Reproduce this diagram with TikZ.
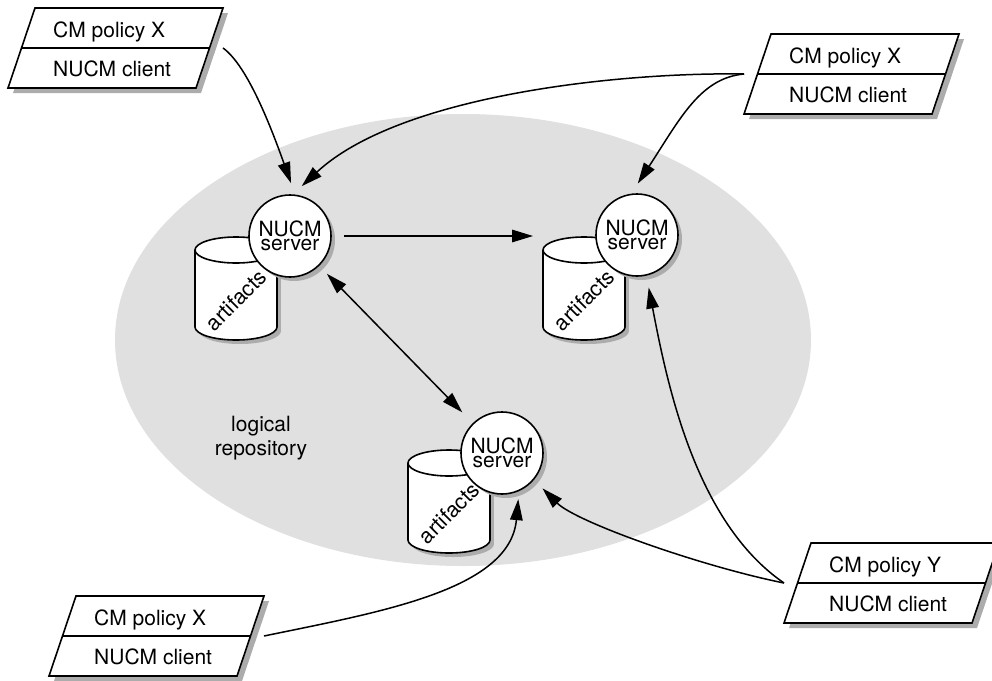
\documentclass[tikz,border=0pt]{standalone}
\usepackage{fontspec}
\setmainfont{TeX Gyre Heros}
\usetikzlibrary{arrows.meta,shadows}
\definecolor{bgc}{RGB}{224,224,224}
\definecolor{shadowc}{RGB}{172,172,172}
\tikzset{
  shapeline/.style={line width=1.6pt, line join=miter},
  server/.style={circle, draw, shapeline, fill=white, minimum size=82pt, inner sep=0pt,
    align=center, font=\fontsize{21}{14}\selectfont,
    drop shadow={shadow xshift=4pt, shadow yshift=-4pt, fill=shadowc, opacity=1}},
  boxtext/.style={anchor=base west, inner sep=0pt, font=\fontsize{21}{25}\selectfont},
  arttext/.style={rotate=45, inner sep=0pt, font=\fontsize{21.5}{25}\selectfont},
  labeltext/.style={align=center, inner sep=0pt, font=\fontsize{21}{24}\selectfont},
  tipshape/.style={},
  arr/.style={line width=1.5pt, -{Triangle[length=21pt,width=12.5pt]}, shorten >=12pt},
  darr/.style={line width=1.5pt, {Triangle[length=21pt,width=12.5pt]}-{Triangle[length=21pt,width=12.5pt]}},
}
% client box: #1 name, #2 x of bottom-left, #3 y of bottom, #4 policy letter
\newcommand\clientbox[4]{%
  \fill[shadowc] (#2+5,#3+5) -- (#2+193,#3+5) -- (#2+220,#3-75) -- (#2+32,#3-75) -- cycle;
  \draw[shapeline, fill=white] (#2,#3) -- (#2+188,#3) -- (#2+215,#3-80) -- (#2+27,#3-80) -- cycle;
  \draw[shapeline] (#2+13.5,#3-40) -- (#2+201.5,#3-40);
  \node[boxtext] (#1-top) at (#2+45,#3-51) {CM policy #4};
  \node[boxtext] (#1-bot) at (#2+45,#3-11.5) {NUCM client};
  \coordinate (#1-l) at (#2,#3-40);
  \coordinate (#1-r) at (#2+215,#3-40);
}
% artifacts cylinder: #1 name, #2 centre x, #3 top y
\newcommand\artcyl[3]{%
  \begin{scope}[shift={(4,4)}]
    \fill[shadowc] (#2,#3+90) ellipse[x radius=41pt, y radius=13pt];
    \fill[shadowc] (#2-41,#3+13) rectangle (#2+41,#3+90);
  \end{scope}
  \draw[shapeline, fill=white] (#2,#3+90) ellipse[x radius=41pt, y radius=13pt];
  \fill[white] (#2-41,#3+13) rectangle (#2+41,#3+90);
  \draw[shapeline] (#2-41,#3+13) -- (#2-41,#3+90);
  \draw[shapeline] (#2+41,#3+13) -- (#2+41,#3+90);
  \draw[shapeline, fill=white] (#2,#3+13) ellipse[x radius=41pt, y radius=13pt];
  \node[arttext] (#1) at (#2,#3+63) {artifacts};
  \coordinate (#1-w) at (#2-41,#3-1);
}
\begin{document}
\begin{tikzpicture}[x=1pt, y=-1pt]
  \useasboundingbox (0,0) rectangle (992,680);
  \fill[white] (0,0) rectangle (992,680);
  % logical repository
  \fill[bgc] (463,340) ellipse[x radius=348pt, y radius=226pt];
  \node[labeltext] (lr) at (261,438) {logical\\repository};

  % servers with artifacts
  \artcyl{a1}{236}{237}
  \node[server] (s1) at (290,236) {NUCM\\server};
  \artcyl{a2}{584}{237}
  \node[server] (s2) at (637,235) {NUCM\\server};
  \artcyl{a3}{449}{450}
  \node[server] (s3) at (502,453) {NUCM\\server};

  % clients
  \clientbox{k1}{8}{88}{X}
  \clientbox{k2}{744}{114}{X}
  \clientbox{k3}{49}{676}{X}
  \clientbox{k4}{784}{623}{Y}

  % connectors
  \draw[arr] (k1-r) .. controls (248,66) and (272,130) .. (s1.83);
  \draw[arr] (k2-l) .. controls (620,72) and (400,95) .. (s1.86);
  \draw[arr] (k2-l) .. controls (700,78) and (680,119) .. (s2.98);
  \draw[arr, shorten <=12pt, shorten >=10pt] (s1) -- (a2-w);
  \draw[darr, shorten <=11pt, shorten >=15pt] (s1) -- (s3);
  \draw[arr] (k4-l) .. controls (695,522) and (667,383) .. (s2.-77);
  \draw[arr] (k4-l) .. controls (700,566) and (576,522) .. (s3.-40);
  \draw[arr, shorten >=8pt] (k3-r) .. controls (380,612) and (510,590) .. (s3.-66);
\end{tikzpicture}
\end{document}
